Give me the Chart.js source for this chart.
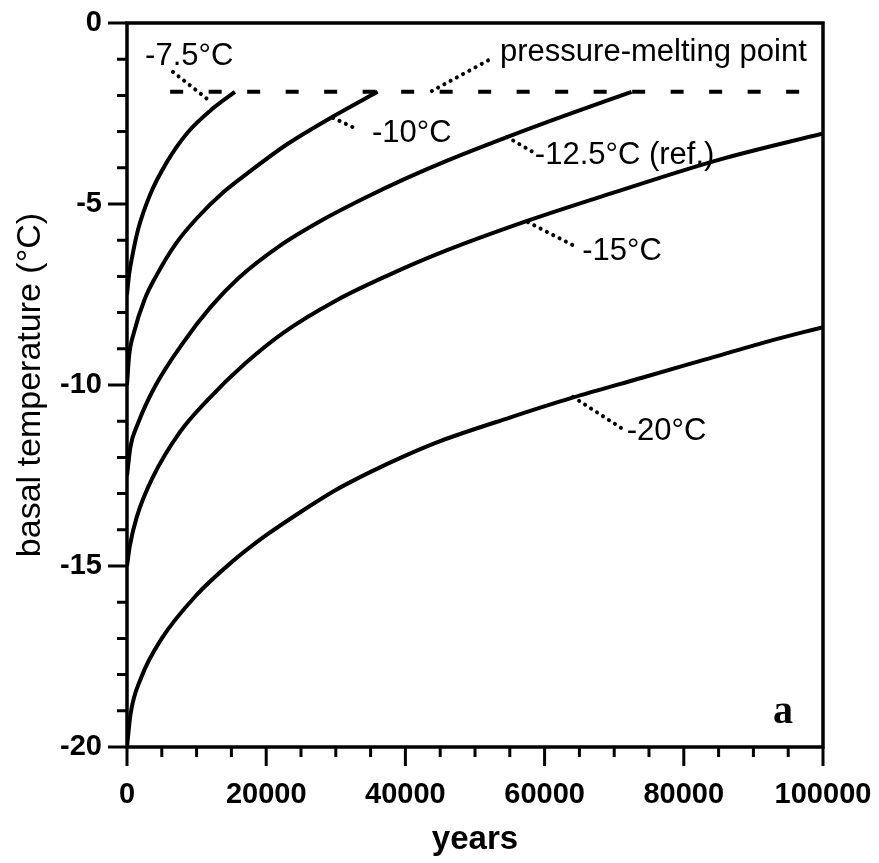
<!DOCTYPE html>
<html>
<head>
<meta charset="utf-8">
<script src="https://cdn.jsdelivr.net/npm/chart.js@4/dist/chart.umd.min.js"></script>
<style>
  html, body { margin: 0; padding: 0; background: #fff; }
  #wrap { width: 879px; height: 863px; }
</style>
</head>
<body>
<div id="wrap"><canvas id="basalChart"></canvas></div>
<script>
//Basal temperature runs, one per surface temperature (years, °C)
const years75 = [0, 300, 700, 1600, 3300, 5700, 8600, 12400, 15500];
const temp75 = [-7.5, -6.95, -6.5, -5.7, -4.75, -3.85, -3.05, -2.35, -1.9];

const years10 = [0, 300, 1000, 2500, 4300, 7000, 10000, 14000, 18000, 23000, 29000, 36000];
const temp10 = [-10, -9.2, -8.55, -7.65, -6.95, -6.1, -5.4, -4.65, -4.05, -3.35, -2.65, -1.9];

const years125 = [0, 500, 1500, 4000, 8000, 12000, 16000, 22000, 28000, 34000, 40000, 46000, 54600, 63000, 72500];
const temp125 = [-12.5, -11.7, -11.1, -10.05, -8.85, -7.85, -7.05, -6.15, -5.45, -4.85, -4.3, -3.8, -3.15, -2.55, -1.9];

const years15 = [0, 400, 1400, 3700, 7600, 11500, 17000, 22500, 30000, 37500, 45000, 57600, 70000, 85000, 100000];
const temp15 = [-15, -14.45, -13.65, -12.55, -11.3, -10.43, -9.4, -8.55, -7.67, -6.97, -6.35, -5.46, -4.68, -3.78, -3.05];

const years20 = [0, 500, 2000, 5000, 10000, 15000, 20000, 25000, 30000, 35000, 40000, 45000, 55000, 64000, 74000, 83000, 92000, 100000];
const temp20 = [-20, -19.1, -18.1, -17.0, -15.8, -14.9, -14.15, -13.5, -12.9, -12.4, -11.95, -11.55, -10.9, -10.35, -9.8, -9.3, -8.8, -8.4];

//Pressure-melting point (dashed line)
const meltingYears = [6200, 96700];
const meltingTemp = -1.9;

//Axis ticks
const xTickLabels = [0, 20000, 40000, 60000, 80000, 100000];
const yTickLabels = [0, -5, -10, -15, -20];
const xMinorStep = 5000;
const yMinorStep = 1;

//Curve labels with their dotted leaders (in data units)
const notes = [
    {text: '-7.5°C', x: 2600, y: -1.15, from: [6600, -1.35], to: [12200, -2.2]},
    {text: 'pressure-melting point', x: 53600, y: -1.05, from: [43800, -1.88], to: [52200, -1.0]},
    {text: '-10°C', x: 35200, y: -3.29, from: [29600, -2.62], to: [33000, -2.93]},
    {text: '-12.5°C (ref.)', x: 58600, y: -3.9, from: [54600, -3.15], to: [58200, -3.55]},
    {text: '-15°C', x: 65400, y: -6.55, from: [57600, -5.5], to: [64700, -6.2]},
    {text: '-20°C', x: 71800, y: -11.52, from: [64100, -10.33], to: [71100, -11.2]},
];


function toPoints(xs, ys) {
    return xs.map((x, i) => ({x: x, y: ys[i]}));
}

function curve(xs, ys) {
    return {
        data: toPoints(xs, ys),
        borderColor: '#000',
        borderWidth: 4,
        pointRadius: 0,
        cubicInterpolationMode: 'monotone',
        fill: false,
    };
}

const FONT = '"Liberation Sans", Arial, sans-serif';

//Frame, tick marks, labels and leaders
const figurePlugin = {
    id: 'figure',
    afterDraw(chart) {
        const ctx = chart.ctx;
        const {left, right, top, bottom} = chart.chartArea;
        const xs = chart.scales.x;
        const ys = chart.scales.y;
        ctx.save();
        ctx.strokeStyle = '#000';
        ctx.fillStyle = '#000';

        ctx.lineWidth = 3.5;
        ctx.strokeRect(left, top, right - left, bottom - top);

        ctx.lineWidth = 3;
        ctx.beginPath();
        for (let v = 0; v <= 100000; v += xMinorStep) {
            const px = xs.getPixelForValue(v);
            const len = xTickLabels.includes(v) ? 19 : 10;
            ctx.moveTo(px, bottom);
            ctx.lineTo(px, bottom + len);
        }
        for (let v = -20; v <= 0; v += yMinorStep) {
            const py = ys.getPixelForValue(v);
            const len = yTickLabels.includes(v) ? 19 : 10;
            ctx.moveTo(left, py);
            ctx.lineTo(left - len, py);
        }
        ctx.stroke();

        //dotted leaders
        ctx.lineWidth = 4;
        ctx.lineCap = 'round';
        ctx.setLineDash([0.1, 7]);
        notes.forEach(n => {
            ctx.beginPath();
            ctx.moveTo(xs.getPixelForValue(n.from[0]), ys.getPixelForValue(n.from[1]));
            ctx.lineTo(xs.getPixelForValue(n.to[0]), ys.getPixelForValue(n.to[1]));
            ctx.stroke();
        });
        ctx.setLineDash([]);

        ctx.font = '31px ' + FONT;
        ctx.textAlign = 'left';
        ctx.textBaseline = 'alphabetic';
        notes.forEach(n => {
            ctx.fillText(n.text, xs.getPixelForValue(n.x), ys.getPixelForValue(n.y));
        });

        ctx.font = 'bold 40px "Liberation Serif", serif';
        ctx.fillText('a', xs.getPixelForValue(92800), ys.getPixelForValue(-19.34));
        ctx.restore();
    }
};

const basalChart = new Chart(document.getElementById('basalChart'), {
    type: 'line',
    data: {
        datasets: [
            curve(years75, temp75),
            curve(years10, temp10),
            curve(years125, temp125),
            curve(years15, temp15),
            curve(years20, temp20),
            {
                data: meltingYears.map(x => ({x: x, y: meltingTemp})),
                borderColor: '#000',
                borderWidth: 4,
                borderDash: [13, 25.5],
                pointRadius: 0,
                fill: false,
            },
        ]
    },
    options: {
        responsive: true,
        maintainAspectRatio: false,
        animation: false,
        layout: {padding: {top: 23, right: 56, left: 0, bottom: 0}},
        plugins: {
            legend: {display: false},
            tooltip: {enabled: false},
        },
        scales: {
            x: {
                type: 'linear',
                min: 0,
                max: 100000,
                afterFit: scale => {
                    scale.height = 116;
                    scale.paddingLeft = 0;
                    scale.paddingRight = 0;
                },
                afterBuildTicks: scale => { scale.ticks = xTickLabels.map(v => ({value: v})); },
                grid: {display: false, drawTicks: false},
                border: {display: false},
                ticks: {
                    padding: 31,
                    color: '#000',
                    maxRotation: 0,
                    autoSkip: false,
                    font: {family: FONT, size: 29, weight: 'bold'},
                    callback: v => String(v),
                },
                title: {
                    display: true,
                    text: 'years',
                    color: '#000',
                    font: {family: FONT, size: 33, weight: 'bold'},
                    padding: {top: 0, bottom: 3},
                },
            },
            y: {
                type: 'linear',
                min: -20,
                max: 0,
                afterFit: scale => {
                    scale.width = 127;
                    scale.paddingTop = 0;
                    scale.paddingBottom = 0;
                },
                afterBuildTicks: scale => { scale.ticks = yTickLabels.map(v => ({value: v})); },
                grid: {display: false, drawTicks: false},
                border: {display: false},
                ticks: {
                    padding: 25,
                    color: '#000',
                    autoSkip: false,
                    font: {family: FONT, size: 29, weight: 'bold'},
                    callback: v => String(v),
                },
                title: {
                    display: true,
                    text: 'basal temperature (°C)',
                    color: '#000',
                    font: {family: FONT, size: 34},
                    padding: {top: 10, bottom: 0},
                },
            },
        },
    },
    plugins: [figurePlugin],
});
</script>
</body>
</html>
